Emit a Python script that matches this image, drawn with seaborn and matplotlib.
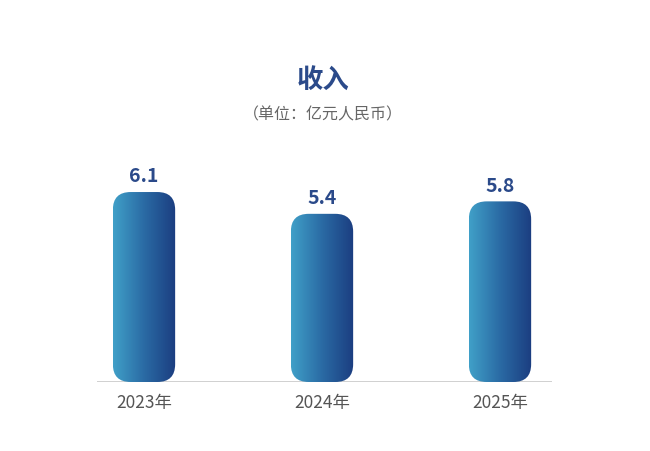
import matplotlib
matplotlib.use("Agg")
import matplotlib.pyplot as plt
import seaborn as sns
import numpy as np
import pandas as pd
from matplotlib.patches import FancyBboxPatch
from matplotlib.colors import LinearSegmentedColormap

years = ["2023年", "2024年", "2025年"]
values = [6.1, 5.4, 5.8]
labels = ["6.1", "5.4", "5.8"]

sns.set_theme(style="white")
plt.rcParams['font.family'] = ['Noto Sans CJK SC', 'DejaVu Sans']

W, H = 650, 452
fig = plt.figure(figsize=(6.5, 4.52), dpi=100)
ax = fig.add_axes([97/W, (H-383)/H, 455/W, 218/H])
df = pd.DataFrame({"year": years, "value": values})
sns.barplot(data=df, x="year", y="value", ax=ax, width=0.35, color="#3f9bc4")
for s in ax.spines.values():
    s.set_visible(False)
ax.axhline(0, color="#c8c8c8", lw=1.2)
ax.set_yticks([])
ax.set_xlabel(""); ax.set_ylabel("")
ax.tick_params(axis="x", length=0, pad=8, labelsize=12.5, labelcolor="#555555")

cmap = LinearSegmentedColormap.from_list("g", ["#40a0c8", "#2a6aa4", "#1b3d80"])
grad = np.linspace(0, 1, 256).reshape(1, -1)
for p, v, lab in zip(ax.patches, values, labels):
    x0, w, h = p.get_x(), p.get_width(), p.get_height()
    p.set_visible(False)
    fb = FancyBboxPatch((x0, 0), w, h, boxstyle="round,pad=0,rounding_size=0.1",
                        mutation_aspect=5.72,
                        facecolor="none", edgecolor="none", transform=ax.transData)
    ax.add_patch(fb)
    im = ax.imshow(grad, cmap=cmap, extent=(x0, x0 + w, 0, h), aspect="auto", zorder=2)
    im.set_clip_path(fb)
    ax.text(x0 + w/2, h + 0.22, lab, ha="center", va="bottom", fontsize=14,
            fontweight="bold", color="#2b4a8a")
ax.set_xlim(-47/178, 408/178)
ax.set_ylim(0, 7)

fig.text(323/W, 1 - 80/H, "收入", ha="center", va="center", fontsize=19,
         fontweight="bold", color="#2b4a8a")
fig.text(323/W, 1 - 115/H, "（单位：亿元人民币）", ha="center", va="center",
         fontsize=11.5, color="#666666")
fig.savefig("out.png", dpi=100)
